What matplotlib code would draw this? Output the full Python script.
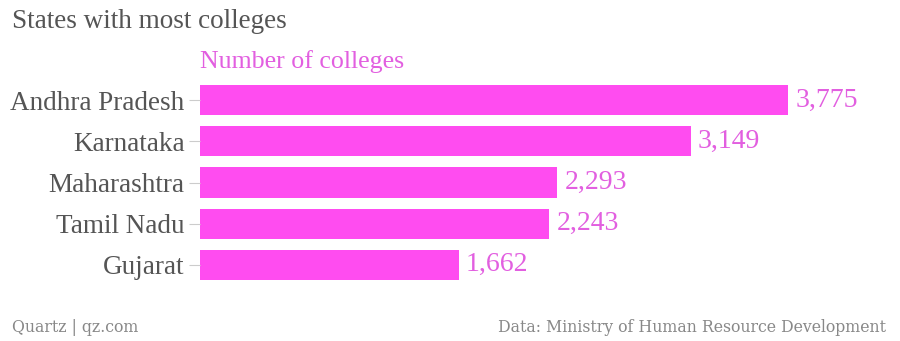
import matplotlib
matplotlib.use("Agg")
import matplotlib.pyplot as plt

states = ["Andhra Pradesh", "Karnataka", "Maharashtra", "Tamil Nadu", "Gujarat"]
colleges = [3775, 3149, 2293, 2243, 1662]
series_label = "Number of colleges"
title = "States with most colleges"
footer_left = "Quartz | qz.com"
footer_right = "Data: Ministry of Human Resource Development"

BAR = "#ff4cf0"
TXT = "#e25fe0"
GRAY = "#555555"
serif = ["Liberation Serif", "DejaVu Serif"]

W, H = 900, 341
fig = plt.figure(figsize=(W / 100, H / 100), dpi=100)
ax = fig.add_axes([200 / W, 1 - 285.5 / H, 700 / W, 206 / H])

y = list(range(len(states)))
ax.barh(y, colleges, height=0.73, color=BAR)
ax.set_ylim(len(states) - 0.5, -0.5)
ax.set_xlim(0, 4493)
ax.set_yticks(y)
ax.set_yticklabels(states, fontfamily=serif, fontsize=19.5, color=GRAY)
ax.tick_params(axis="y", length=8, width=0.8, color="#cccccc", pad=3)
ax.set_xticks([])
for s in ax.spines.values():
    s.set_visible(False)

for yi, v in zip(y, colleges):
    ax.text(v + 45, yi, f"{v:,}", va="center", ha="left", fontfamily=serif,
            fontsize=20, color=TXT)

fig.text(200 / W, 1 - 62 / H, series_label, fontfamily=serif, fontsize=18.6,
         color=TXT, va="center", ha="left")
fig.text(12 / W, 1 - 22 / H, title, fontfamily=serif, fontsize=19.5,
         color=GRAY, va="center", ha="left")
fig.text(12 / W, 1 - 327 / H, footer_left, fontfamily="DejaVu Serif",
         fontstretch="condensed", fontsize=12.6, color="#888888",
         va="center", ha="left")
fig.text(886 / W, 1 - 327 / H, footer_right, fontfamily="DejaVu Serif",
         fontstretch="condensed", fontsize=12.6, color="#888888",
         va="center", ha="right")

fig.savefig("out.png", dpi=100)
